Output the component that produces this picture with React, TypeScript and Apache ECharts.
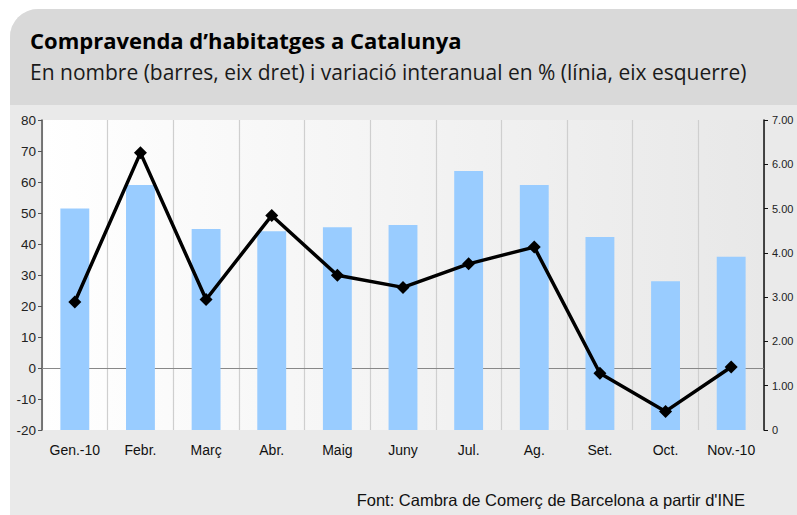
import React, { useEffect, useRef } from "react";
import * as echarts from "echarts";

const categories = ["Gen.-10", "Febr.", "Març", "Abr.", "Maig", "Juny", "Jul.", "Ag.", "Set.", "Oct.", "Nov.-10"];
const barValues = [5.0, 5.53, 4.54, 4.49, 4.58, 4.63, 5.85, 5.53, 4.36, 3.36, 3.91];
const lineValues = [21.3, 69.4, 22.1, 49.2, 29.9, 26.0, 33.6, 39.0, -1.7, -14.0, 0.3];
const title = "Compravenda d’habitatges a Catalunya";
const subtitle = "En nombre (barres, eix dret) i variació interanual en % (línia, eix esquerre)";
const source = "Font: Cambra de Comerç de Barcelona a partir d'INE";

export default function App() {
  const ref = useRef<HTMLDivElement>(null);
  useEffect(() => {
    if (!ref.current) return;
    const chart = echarts.init(ref.current, null, { renderer: "svg" });
    chart.setOption({
      animation: false,
      backgroundColor: "#ffffff",
      graphic: [
        { type: "rect", z: -10, shape: { x: 10, y: 9, width: 800, height: 520, r: [28, 0, 0, 0] }, style: { fill: "#eaeaea" } },
        { type: "rect", z: -9, shape: { x: 10, y: 9, width: 800, height: 96, r: [28, 0, 0, 0] }, style: { fill: "#d9d9d9" } },
        { type: "text", x: 30, y: 40, style: { text: title, font: "bold 22px 'Open Sans'", fill: "#000", verticalAlign: "middle" } },
        { type: "text", x: 30, y: 72, style: { text: subtitle, font: "21px 'Open Sans'", fill: "#1a1a1a", verticalAlign: "middle" } },
        { type: "text", x: 745, y: 500, style: { text: source, font: "16.5px 'Liberation Sans'", fill: "#111", align: "right", verticalAlign: "middle" } },
      ],
      grid: {
        left: 42, right: 33, top: 120, bottom: 85,
        show: true, borderWidth: 0,
        backgroundColor: {
          type: "linear", x: 0, y: 0, x2: 1, y2: 0,
          colorStops: [{ offset: 0, color: "#ffffff" }, { offset: 1, color: "#e8e8e8" }],
        },
      },
      xAxis: {
        type: "category",
        data: categories,
        boundaryGap: true,
        axisLine: { show: false },
        axisTick: { show: false },
        axisLabel: { interval: 0, color: "#111", fontFamily: "Liberation Sans", fontSize: 14, margin: 13 },
        splitLine: { show: true, interval: 0, lineStyle: { color: "#cfcfcf", width: 1.2 } },
      },
      yAxis: [
        {
          type: "value", min: -20, max: 80, interval: 10, position: "left",
          axisLine: { show: true, lineStyle: { color: "#555", width: 1.5 } },
          axisTick: { show: true, length: 4, lineStyle: { color: "#555" } },
          axisLabel: { color: "#222", fontFamily: "Liberation Sans", fontSize: 13.5, margin: 6 },
          splitLine: { show: false },
        },
        {
          type: "value", min: 0, max: 7, interval: 1, position: "right",
          axisLine: { show: true, lineStyle: { color: "#111", width: 1.5 } },
          axisTick: { show: true, length: 4, lineStyle: { color: "#111" } },
          axisLabel: {
            color: "#222", fontFamily: "Liberation Sans", fontSize: 11, margin: 8,
            formatter: (v: number) => (v === 0 ? "0" : v.toFixed(2)),
          },
          splitLine: { show: false },
        },
      ],
      series: [
        {
          type: "bar", yAxisIndex: 1, data: barValues, barWidth: "44%",
          itemStyle: { color: "#99ccff" },
        },
        {
          type: "line", yAxisIndex: 0, data: lineValues,
          symbol: "diamond", symbolSize: 13,
          lineStyle: { color: "#000", width: 3.5 },
          itemStyle: { color: "#000" },
          markLine: {
            silent: true, symbol: "none", label: { show: false },
            lineStyle: { color: "#888", width: 1, type: "solid" },
            data: [{ yAxis: 0 }],
            z: 1,
          },
          z: 3,
        },
      ],
    });
    return () => chart.dispose();
  }, []);
  return <div ref={ref} style={{ position: "absolute", left: 0, top: 0, width: 797, height: 515 }} />;
}
